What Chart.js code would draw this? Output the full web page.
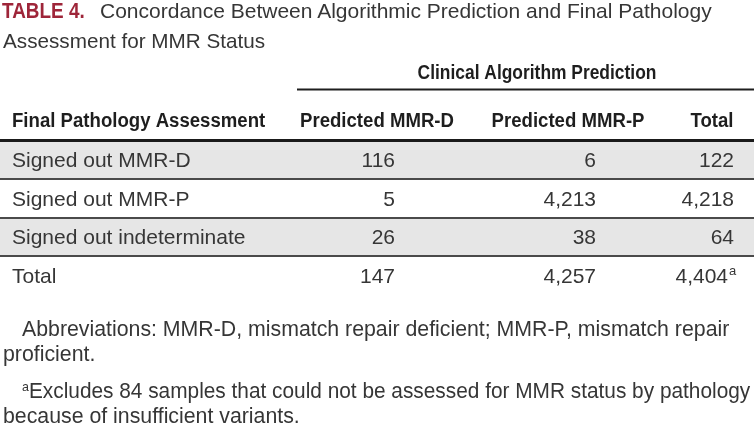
<!DOCTYPE html>
<html>
<head>
<meta charset="utf-8">
<script src="https://cdn.jsdelivr.net/npm/chart.js@4.4.1/dist/chart.umd.min.js"></script>
<style>
  html, body { margin: 0; padding: 0; background: #fff; }
  #page { position: relative; width: 754px; height: 428px; overflow: hidden;
          font-family: 'Liberation Sans', Arial, sans-serif; color: #363636; }
  #table4 { position: absolute; left: 0; top: 0; }
  .txt { position: absolute; white-space: nowrap; line-height: 1; transform-origin: 0 0; }
  .title { font-size: 21px; }
  .tag { font-weight: bold; color: #9e2539; font-size: 21.5px; transform: scaleX(0.88); }
  .note { font-size: 21.3px; }
  sup { font-size: 0.6em; vertical-align: 0.55em; line-height: 0; }
</style>
</head>
<body>
<div id="page">
  <canvas id="table4" width="754" height="428"></canvas>
  <div class="txt tag" style="left:2px; top:1px;">TABLE 4.</div>
  <div class="txt title" style="left:100px; top:-0.5px; transform: scaleX(1.0);">Concordance Between Algorithmic Prediction and Final Pathology</div>
  <div class="txt title" style="left:3px; top:29.5px; transform: scaleX(0.985);">Assessment for MMR Status</div>
  <div class="txt note" style="left:22px; top:319px;">Abbreviations: MMR-D, mismatch repair deficient; MMR-P, mismatch repair</div>
  <div class="txt note" style="left:3px; top:344px;">proficient.</div>
  <div class="txt note" style="left:22px; top:381px; transform: scaleX(0.978);"><sup>a</sup>Excludes 84 samples that could not be assessed for MMR status by pathology</div>
  <div class="txt note" style="left:3px; top:406px;">because of insufficient variants.</div>
</div>
<script>
// dữ liệu bảng
const rowLabels = ['Signed out MMR-D', 'Signed out MMR-P', 'Signed out indeterminate', 'Total'];
const columnLabels = ['Predicted MMR-D', 'Predicted MMR-P', 'Total'];
const predictedMmrD = [116, 5, 26, 147];
const predictedMmrP = [6, 4213, 38, 4257];
const rowTotals = [122, 4218, 64, 4404];
const totalNotes = ['', '', '', 'a'];
const stubHeader = 'Final Pathology Assessment';
const spannerHeader = 'Clinical Algorithm Prediction';

const columns = [predictedMmrD, predictedMmrP, rowTotals];

// bố cục (đơn vị trục x = pixel)
const X_MAX = 754;
const COL_RIGHT = [395, 596, 734];
const HEAD_CENTER = [377, 568, 712];
const SPAN_CENTER = 537;
const SPAN_RULE_LEFT = 297;
const STUB_LEFT = 12;

const BODY_FONT = "21px 'Liberation Sans', Arial, sans-serif";
const HEAD_FONT = "bold 20px 'Liberation Sans', Arial, sans-serif";
const NOTE_FONT = "13px 'Liberation Sans', Arial, sans-serif";

function fmt(v) {
    return v.toLocaleString('en-US');
}

// vẽ chữ hẹp lại theo chiều ngang
function condensedText(ctx, text, x, y, align, squeeze) {
    const w = ctx.measureText(text).width * squeeze;
    let left = x;
    if (align === 'center') left = x - w / 2;
    if (align === 'right') left = x - w;
    ctx.save();
    ctx.translate(left, y);
    ctx.scale(squeeze, 1);
    ctx.textAlign = 'left';
    ctx.fillText(text, 0, 0);
    ctx.restore();
}

const tableText = {
    id: 'tableText',
    afterDraw(chart) {
        const ctx = chart.ctx;
        const x = chart.scales.x;
        const y = chart.scales.y;
        const top = chart.chartArea.top;

        ctx.save();
        ctx.textBaseline = 'alphabetic';

        // tiêu đề nhóm cột + đường kẻ dưới
        ctx.fillStyle = '#1e1e1e';
        ctx.font = HEAD_FONT;
        condensedText(ctx, spannerHeader, x.getPixelForValue(SPAN_CENTER), top - 62, 'center', 0.87);
        ctx.strokeStyle = '#1e1e1e';
        ctx.lineWidth = 2;
        ctx.beginPath();
        ctx.moveTo(x.getPixelForValue(SPAN_RULE_LEFT), top - 51);
        ctx.lineTo(x.getPixelForValue(X_MAX), top - 51);
        ctx.stroke();

        // hàng tiêu đề cột
        condensedText(ctx, stubHeader, x.getPixelForValue(STUB_LEFT), top - 14, 'left', 0.93);
        columnLabels.forEach((lab, i) => {
            condensedText(ctx, lab, x.getPixelForValue(HEAD_CENTER[i]), top - 14, 'center', 0.93);
        });

        // các ô
        ctx.font = BODY_FONT;
        ctx.fillStyle = '#363636';
        rowLabels.forEach((lab, r) => {
            const base = y.getPixelForValue(r) + 7.5;
            ctx.textAlign = 'left';
            ctx.fillText(lab, x.getPixelForValue(STUB_LEFT), base);
            columns.forEach((col, c) => {
                let right = x.getPixelForValue(COL_RIGHT[c]);
                const note = c === 2 ? totalNotes[r] : '';
                if (note) {
                    right -= 6;
                    ctx.font = NOTE_FONT;
                    ctx.textAlign = 'left';
                    ctx.fillText(note, right + 1, base - 8);
                    ctx.font = BODY_FONT;
                }
                ctx.textAlign = 'right';
                ctx.fillText(fmt(col[r]), right, base);
            });
        });
        ctx.restore();
    }
};

new Chart(document.getElementById('table4'), {
    type: 'bar',
    data: {
        labels: rowLabels,
        datasets: [{
            data: rowLabels.map(() => X_MAX),
            backgroundColor: (c) => (c.dataIndex % 2 === 0 ? '#e6e6e6' : 'rgba(0,0,0,0)'),
            borderWidth: 0,
            barPercentage: 1,
            categoryPercentage: 1
        }]
    },
    options: {
        indexAxis: 'y',
        responsive: false,
        animation: false,
        events: [],
        layout: { padding: { top: 140.5, bottom: 428 - 294.5, left: 0, right: 0 } },
        scales: {
            x: { type: 'linear', display: false, min: 0, max: X_MAX },
            y: {
                offset: true,
                border: { display: false },
                ticks: { display: false },
                grid: {
                    offset: true,
                    drawTicks: false,
                    z: 1,
                    color: (c) => (c.index === 0 ? '#1a1a1a' : c.index === undefined ? 'rgba(0,0,0,0)' : '#4a4a4a'),
                    lineWidth: (c) => (c.index === 0 ? 3 : 2)
                }
            }
        },
        plugins: {
            legend: { display: false },
            tooltip: { enabled: false }
        }
    },
    plugins: [tableText]
});
</script>
</body>
</html>
